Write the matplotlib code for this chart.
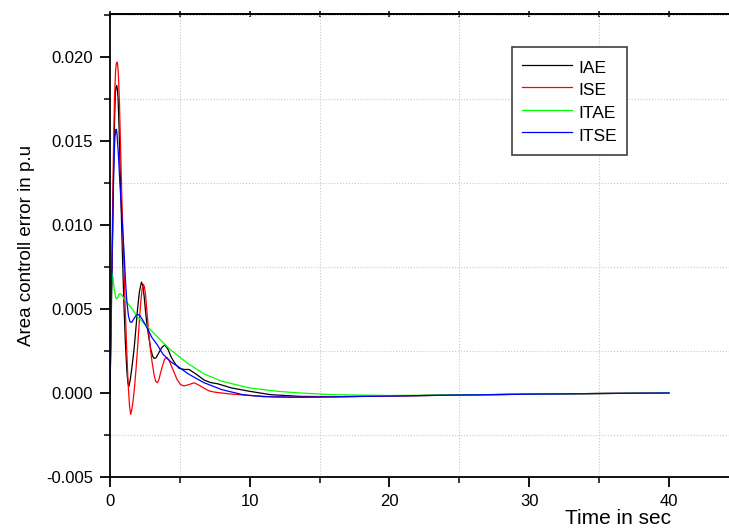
import matplotlib
matplotlib.use("Agg")
import matplotlib.pyplot as plt
from matplotlib.ticker import MultipleLocator

plt.rcParams['font.family'] = ['Liberation Sans', 'DejaVu Sans']

# IAE (black)
t_iae = [0, 0.05, 0.1, 0.18, 0.25, 0.32, 0.38, 0.43, 0.48, 0.53, 0.58, 0.65, 0.72, 0.8, 0.88, 1.0,
         1.1, 1.2, 1.28, 1.36, 1.45, 1.58, 1.72, 1.85, 1.96, 2.1, 2.25, 2.35, 2.45, 2.55, 2.67, 2.8,
         2.92, 3.05, 3.15, 3.3, 3.5, 3.7, 3.92, 4.15, 4.4, 4.7, 4.95, 5.3, 5.66, 6.2, 6.74, 7.2, 7.7,
         8.7, 10, 11.5, 13.6, 16, 20, 25, 30, 35, 40]
v_iae = [0, 0.0025, 0.005, 0.009, 0.013, 0.016, 0.0178, 0.0182, 0.0183, 0.0181, 0.0175, 0.0158,
         0.0135, 0.011, 0.0085, 0.0052, 0.003, 0.0014, 0.0006, 0.0004, 0.0008, 0.0016, 0.0026, 0.0038,
         0.0049, 0.006, 0.0066, 0.0064, 0.0057, 0.0048, 0.0039, 0.0032, 0.0026, 0.0022, 0.00206,
         0.0021, 0.0024, 0.0027, 0.00286, 0.0026, 0.0021, 0.0017, 0.00147, 0.0014, 0.0014, 0.0011,
         0.00077, 0.00062, 0.00055, 0.0003, 0.0001, -0.0001, -0.0002, -0.00022, -0.00018, -0.00012,
         -0.00007, -0.00003, 0]

# ISE (red)
t_ise = [0, 0.05, 0.1, 0.18, 0.25, 0.32, 0.4, 0.45, 0.5, 0.55, 0.6, 0.68, 0.75, 0.85, 0.96, 1.08,
         1.2, 1.3, 1.4, 1.48, 1.56, 1.65, 1.75, 1.87, 2.0, 2.1, 2.2, 2.3, 2.39, 2.47, 2.55, 2.65, 2.75,
         2.88, 3.0, 3.15, 3.27, 3.39, 3.5, 3.62, 3.75, 3.9, 4.06, 4.25, 4.45, 4.6, 4.8, 5.05, 5.3,
         5.65, 6.02, 6.4, 6.74, 7.1, 7.5, 8.5, 10, 12, 13.6, 16, 20, 25, 30, 35, 40]
v_ise = [0, 0.003, 0.006, 0.0105, 0.0145, 0.0175, 0.0192, 0.0196, 0.0197, 0.0195, 0.019, 0.0172,
         0.0148, 0.0116, 0.0085, 0.0053, 0.0025, 0.0005, -0.0008, -0.00127, -0.001, -0.0005, 0.0003,
         0.0015, 0.003, 0.0043, 0.0054, 0.0062, 0.00647, 0.0063, 0.0058, 0.0048, 0.0038, 0.0027,
         0.0019, 0.0011, 0.0007, 0.00061, 0.0008, 0.0012, 0.0016, 0.002, 0.00212, 0.0019, 0.0015,
         0.0012, 0.0008, 0.0005, 0.00042, 0.0005, 0.00061, 0.00045, 0.00028, 0.00012, 0.00005,
         -0.00005, -0.00015, -0.00024, -0.00025, -0.00022, -0.00018, -0.00012, -0.00007, -0.00003, 0]

# ITAE (green)
t_itae = [0, 0.03, 0.08, 0.16, 0.22, 0.3, 0.4, 0.48, 0.56, 0.66, 0.76, 0.88, 1.0, 1.5, 1.96, 2.5,
          3.15, 3.8, 4.35, 5.54, 6.74, 8, 10, 12, 13.6, 16, 20, 25, 30, 35, 40]
v_itae = [0, 0.003, 0.0058, 0.0071, 0.0068, 0.0062, 0.0057, 0.0056, 0.0057, 0.0059, 0.0059, 0.0058,
          0.0056, 0.0051, 0.00454, 0.0041, 0.00355, 0.003, 0.00256, 0.00177, 0.00113, 0.0007, 0.0003,
          0.0001, 0.0, -0.0001, -0.00015, -0.00011, -0.00007, -0.00003, 0]

# ITSE (blue)
t_itse = [0, 0.05, 0.1, 0.18, 0.25, 0.3, 0.35, 0.43, 0.48, 0.52, 0.6, 0.7, 0.85, 1.0, 1.1, 1.2, 1.32,
          1.43, 1.55, 1.7, 1.85, 2.0, 2.15, 2.3, 2.67, 3.0, 3.39, 3.8, 4.35, 5.0, 5.54, 6.1, 6.74, 8,
          9.5, 11, 13.6, 16, 20, 25, 30, 35, 40]
v_itse = [0, 0.003, 0.006, 0.0095, 0.0125, 0.0142, 0.0152, 0.0157, 0.0156, 0.0152, 0.0142, 0.0126,
          0.0105, 0.0085, 0.0068, 0.0055, 0.0046, 0.00424, 0.0042, 0.0044, 0.0046, 0.00468, 0.0046,
          0.0044, 0.00385, 0.0033, 0.00286, 0.0023, 0.00186, 0.0015, 0.00117, 0.0009, 0.00061, 0.0002,
          -0.0001, -0.00022, -0.00025, -0.00023, -0.00018, -0.00012, -0.00007, -0.00003, 0]

fig = plt.figure(figsize=(7.29, 5.31), dpi=100)
ax = fig.add_axes([110 / 729, 54 / 531, 619 / 729, 463 / 531])

ax.plot(t_iae, v_iae, color='black', lw=0.9, label='IAE')
ax.plot(t_ise, v_ise, color='#ff0000', lw=0.9, label='ISE')
ax.plot(t_itae, v_itae, color='#00ff00', lw=0.9, label='ITAE')
ax.plot(t_itse, v_itse, color='#0000ff', lw=0.9, label='ITSE')

ax.set_xlim(0, 44.3)
ax.set_ylim(-0.005, 0.02256)
ax.xaxis.set_major_locator(MultipleLocator(10))
ax.xaxis.set_minor_locator(MultipleLocator(5))
ax.yaxis.set_major_locator(MultipleLocator(0.005))
ax.yaxis.set_minor_locator(MultipleLocator(0.0025))
ax.yaxis.set_major_formatter(plt.FuncFormatter(lambda v, p: '%.3f' % v))

ax.grid(which='minor', linestyle=':', color='#c8c8c8', lw=0.8)
ax.grid(which='major', visible=False)

ax.spines['right'].set_visible(False)
for s in ['left', 'bottom', 'top']:
    ax.spines[s].set_linewidth(1.3)

ax.tick_params(which='major', direction='out', length=7, width=1.3, labelsize=12, pad=5)
ax.tick_params(which='minor', direction='out', length=4, width=1.1)

# small ticks on the top border
top = ax.secondary_xaxis('top')
top.xaxis.set_major_locator(MultipleLocator(5))
top.tick_params(direction='inout', length=4, width=1.1, labeltop=False)
top.spines['top'].set_linewidth(1.3)

ax.set_ylabel('Area controll error in p.u', fontsize=13.5, labelpad=8)
# x title sits under the right part of the axis, as in the original
fig.text(618 / 729, 3 / 531, 'Time in sec', fontsize=15, ha='center', va='bottom')

ax.legend(loc='upper left', bbox_to_anchor=(512 / 729, 1 - 47 / 531), bbox_transform=fig.transFigure,
          fontsize=12.5, frameon=True, fancybox=False, framealpha=1, edgecolor='#404040',
          handlelength=2.9, handleheight=1.5, handletextpad=0.4, labelspacing=0.08, borderpad=0.55,
          borderaxespad=0)
ax.get_legend().get_frame().set_linewidth(1.2)

fig.savefig('out.png', dpi=100)
